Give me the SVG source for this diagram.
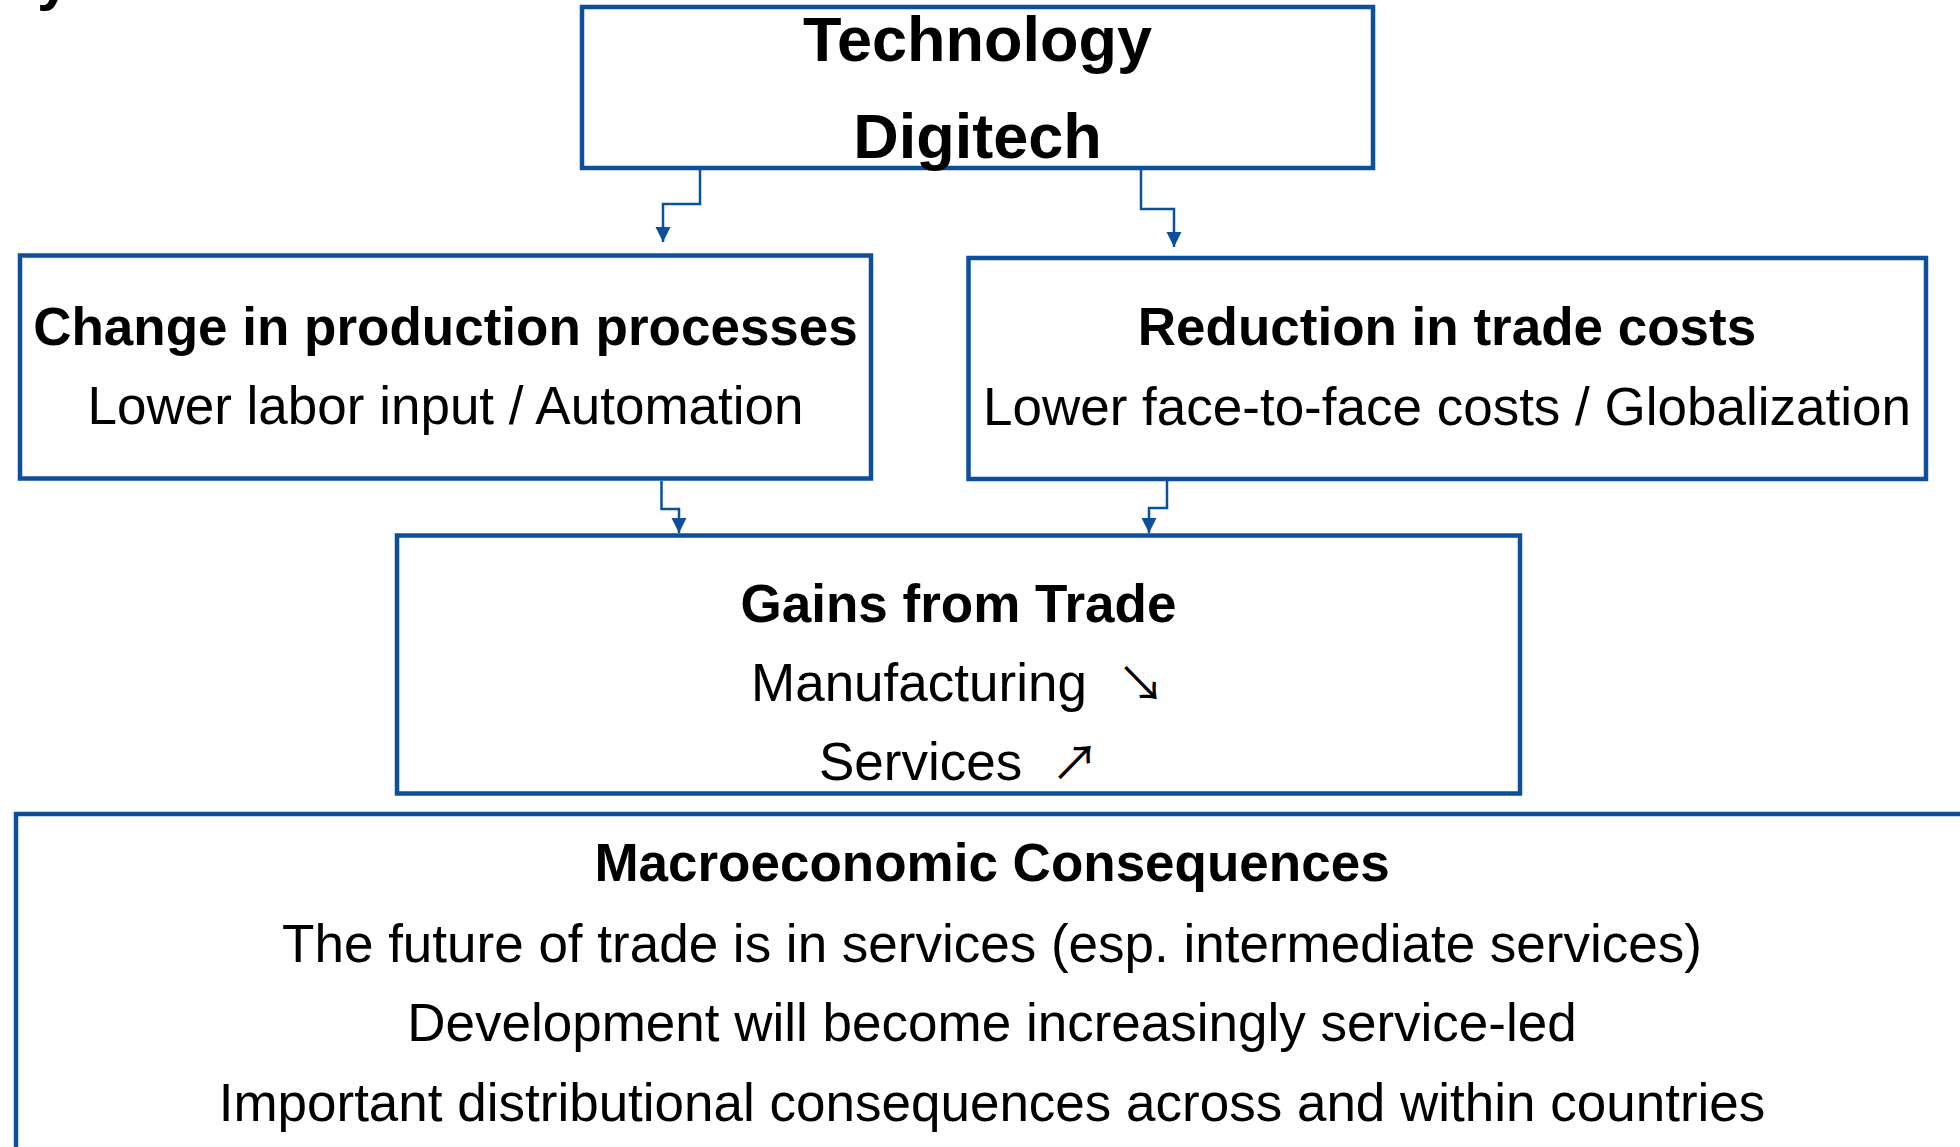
<svg xmlns="http://www.w3.org/2000/svg" width="1960" height="1147" viewBox="0 0 1960 1147">
<style>
.box{fill:#ffffff;stroke:#0D4F9C;stroke-width:4.5}
.b{font-family:"Liberation Sans",Arial,sans-serif;font-weight:bold;fill:#000;text-anchor:middle}
.r{font-family:"Liberation Sans",Arial,sans-serif;fill:#000;text-anchor:middle;font-size:53px}
.conn{fill:none;stroke:#0D4F9C;stroke-width:2.5;marker-end:url(#arr)}
.sym{font-family:"Noto Sans CJK JP","DejaVu Sans",sans-serif}
</style>
<defs>
<marker id="arr" markerUnits="userSpaceOnUse" markerWidth="16" markerHeight="16" refX="15" refY="7.5" orient="auto">
<path d="M0,0 L15,7.5 L0,15 z" fill="#0D4F9C"/>
</marker>
</defs>
<rect width="1960" height="1147" fill="#ffffff"/>
<text x="37" y="-1" class="b" style="text-anchor:start" font-size="60">y</text>
<g id="connectors">
<path class="conn" d="M700 170 V204 H663 V242"/>
<path class="conn" d="M1141 170 V209 H1174 V247"/>
<path class="conn" d="M661.5 481 V509 H679 V533"/>
<path class="conn" d="M1167 481 V508 H1149 V533"/>
</g>
<g id="technology">
<rect class="box" x="582" y="7" width="791" height="161"/>
<text class="b" x="977.5" y="61" font-size="63">Technology</text>
<text class="b" x="977.5" y="158" font-size="63">Digitech</text>
</g>
<g id="production">
<rect class="box" x="20" y="255.5" width="851" height="223"/>
<text class="b" x="445.5" y="345" font-size="53">Change in production processes</text>
<text class="r" x="445.5" y="424">Lower labor input / Automation</text>
</g>
<g id="tradecosts">
<rect class="box" x="968.5" y="258" width="957.5" height="221"/>
<text class="b" x="1447" y="345" font-size="53">Reduction in trade costs</text>
<text class="r" x="1447" y="425">Lower face-to-face costs / Globalization</text>
</g>
<g id="gains">
<rect class="box" x="397" y="535.5" width="1123" height="258"/>
<text class="b" x="958.5" y="622" font-size="53">Gains from Trade</text>
<text class="r" x="751" y="701" style="text-anchor:start">Manufacturing<tspan class="sym" x="1117" font-size="48">↘</tspan></text>
<text class="r" x="819" y="780" style="text-anchor:start">Services<tspan class="sym" x="1051" font-size="48">↗</tspan></text>
</g>
<g id="macro">
<rect class="box" x="16" y="814" width="1952" height="400"/>
<text class="b" x="992" y="881" font-size="53">Macroeconomic Consequences</text>
<text class="r" x="992" y="962">The future of trade is in services (esp. intermediate services)</text>
<text class="r" x="992" y="1041">Development will become increasingly service-led</text>
<text class="r" x="992" y="1121">Important distributional consequences across and within countries</text>
</g>
</svg>
